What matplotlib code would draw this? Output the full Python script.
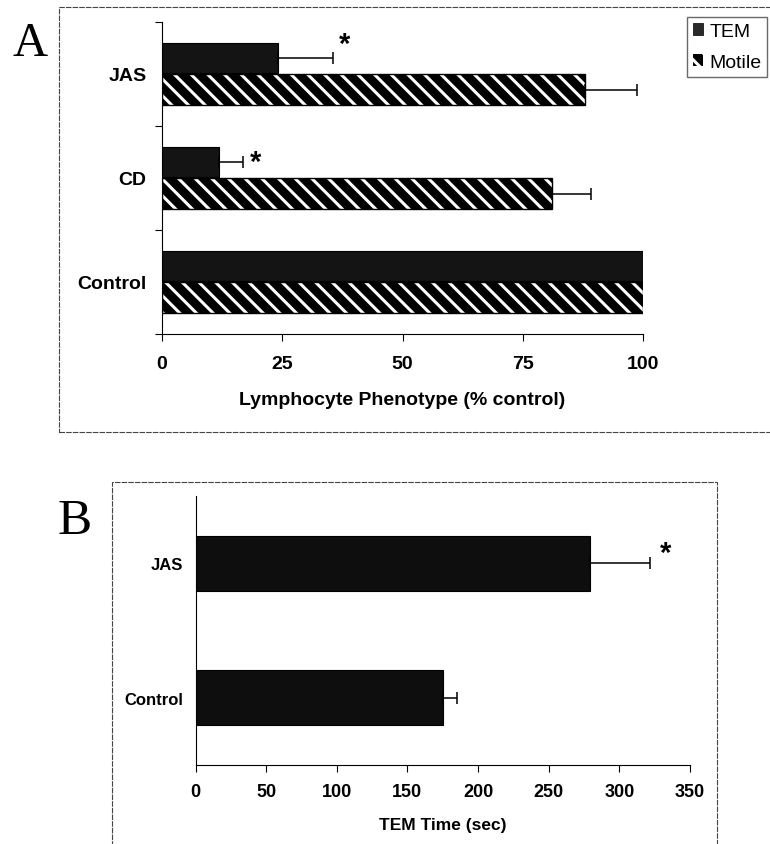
import numpy as np
import matplotlib.pyplot as plt
import matplotlib.patches as mpatches
from matplotlib.patches import Rectangle

# panel A data (% control)
groups_a = ['Control', 'CD', 'JAS']
tem_a = [100, 11.9, 24.2]
tem_err_a = [0, 4.9, 11.3]
motile_a = [100, 81.1, 88.0]
motile_err_a = [0, 8.0, 10.7]
ticks_a = [0, 25, 50, 75, 100]

# panel B data (sec)
groups_b = ['Control', 'JAS']
tem_time_b = [175.5, 279]
tem_time_err_b = [9.5, 42.5]
ticks_b = [0, 50, 100, 150, 200, 250, 300, 350]

plt.rcParams['font.family'] = ['Liberation Sans Narrow', 'Liberation Sans', 'DejaVu Sans']
plt.rcParams['hatch.linewidth'] = 2.2
hatch = '\\\\'

fig = plt.figure(figsize=(7.7, 8.45), dpi=100)

# scanned panel frames
fig.patches.append(Rectangle((0.0766, 0.4876), 1.0, 0.5029, transform=fig.transFigure,
                             fill=False, ec='#444444', lw=0.8, ls=(0, (5, 1)), clip_on=False))
fig.patches.append(Rectangle((0.1455, -0.05), 0.7857, 0.4784, transform=fig.transFigure,
                             fill=False, ec='#444444', lw=0.8, ls=(0, (5, 1)), clip_on=False))

# ---------- panel A ----------
ax = fig.add_axes([0.2104, 0.6036, 0.6247, 0.3692])
y = np.arange(len(groups_a))
h = 0.29
off = 0.15
ax.barh(y + off, tem_a, height=h, color='#141414', edgecolor='black', lw=0.8)
ax.barh(y - off, motile_a, height=h, color='black', edgecolor='white', hatch=hatch, lw=0)
ax.barh(y - off, motile_a, height=h, fill=False, edgecolor='black', lw=1)

for vals, errs, dy in [(tem_a, tem_err_a, off), (motile_a, motile_err_a, -off)]:
    idx = [i for i in range(len(vals)) if errs[i] > 0]
    ax.errorbar([vals[i] for i in idx], [y[i] + dy for i in idx],
                xerr=[[0] * len(idx), [errs[i] for i in idx]],
                fmt='none', ecolor='black', elinewidth=1.1, capsize=4, capthick=1.1)

ax.text(38, 2.29, '*', fontsize=21, fontweight='bold', ha='center', va='center')
ax.text(19.5, 1.15, '*', fontsize=21, fontweight='bold', ha='center', va='center')

ax.set_xlim(0, 100)
ax.set_ylim(-0.5, 2.5)
ax.set_xticks(ticks_a)
ax.set_xticklabels([str(t) for t in ticks_a], fontsize=14, fontweight='bold')
ax.set_yticks([-0.5, 0.5, 1.5, 2.5])
ax.set_yticklabels([])
ax.set_yticks(y, minor=True)
ax.set_yticklabels(groups_a, minor=True, fontsize=14, fontweight='bold')
ax.tick_params(axis='y', which='minor', length=0, pad=11)
ax.tick_params(axis='y', which='major', length=5, direction='out', width=0.8)
ax.tick_params(axis='x', length=5, width=0.8, pad=10)
ax.set_xlabel('Lymphocyte Phenotype (% control)', fontsize=14, fontweight='bold', labelpad=14)
for s in ['top', 'right']:
    ax.spines[s].set_visible(False)

handles = [mpatches.Patch(facecolor='#2a2a2a', edgecolor='black', lw=0.5),
           mpatches.Patch(facecolor='black', edgecolor='white', hatch=hatch, lw=0)]
fig.legend(handles, ['TEM', 'Motile'], loc='upper left', bbox_to_anchor=(0.892, 0.979),
           fontsize=14, frameon=True, fancybox=False, edgecolor='#444444',
           handlelength=0.55, handleheight=0.55, handletextpad=0.3, borderpad=0.3,
           labelspacing=0.75, borderaxespad=0)

fig.text(0.039, 0.948, 'A', family='Liberation Serif', fontsize=35, ha='center', va='center')

# ---------- panel B ----------
bx = fig.add_axes([0.2539, 0.0935, 0.6422, 0.3183])
yb = np.arange(len(groups_b))
bx.barh(yb, tem_time_b, height=0.41, color='#0e0e0e', edgecolor='black', lw=0.8)
bx.errorbar(tem_time_b, yb, xerr=[[0] * len(yb), tem_time_err_b], fmt='none',
            ecolor='black', elinewidth=1.1, capsize=4, capthick=1.1)
bx.text(333, 1.08, '*', fontsize=21, fontweight='bold', ha='center', va='center')

bx.set_xlim(0, 350)
bx.set_ylim(-0.5, 1.5)
bx.set_xticks(ticks_b)
bx.set_xticklabels([str(t) for t in ticks_b], fontsize=13, fontweight='bold')
bx.set_yticks(yb)
bx.set_yticklabels(groups_b, fontsize=12, fontweight='bold')
bx.tick_params(axis='y', length=0, pad=9)
bx.tick_params(axis='x', length=5, width=0.8, pad=8)
bx.set_xlabel('TEM Time (sec)', fontsize=12.5, fontweight='bold', labelpad=12)
for s in ['top', 'right']:
    bx.spines[s].set_visible(False)

fig.text(0.097, 0.383, 'B', family='Liberation Serif', fontsize=37, ha='center', va='center')

fig.savefig('out.png', dpi=100)
